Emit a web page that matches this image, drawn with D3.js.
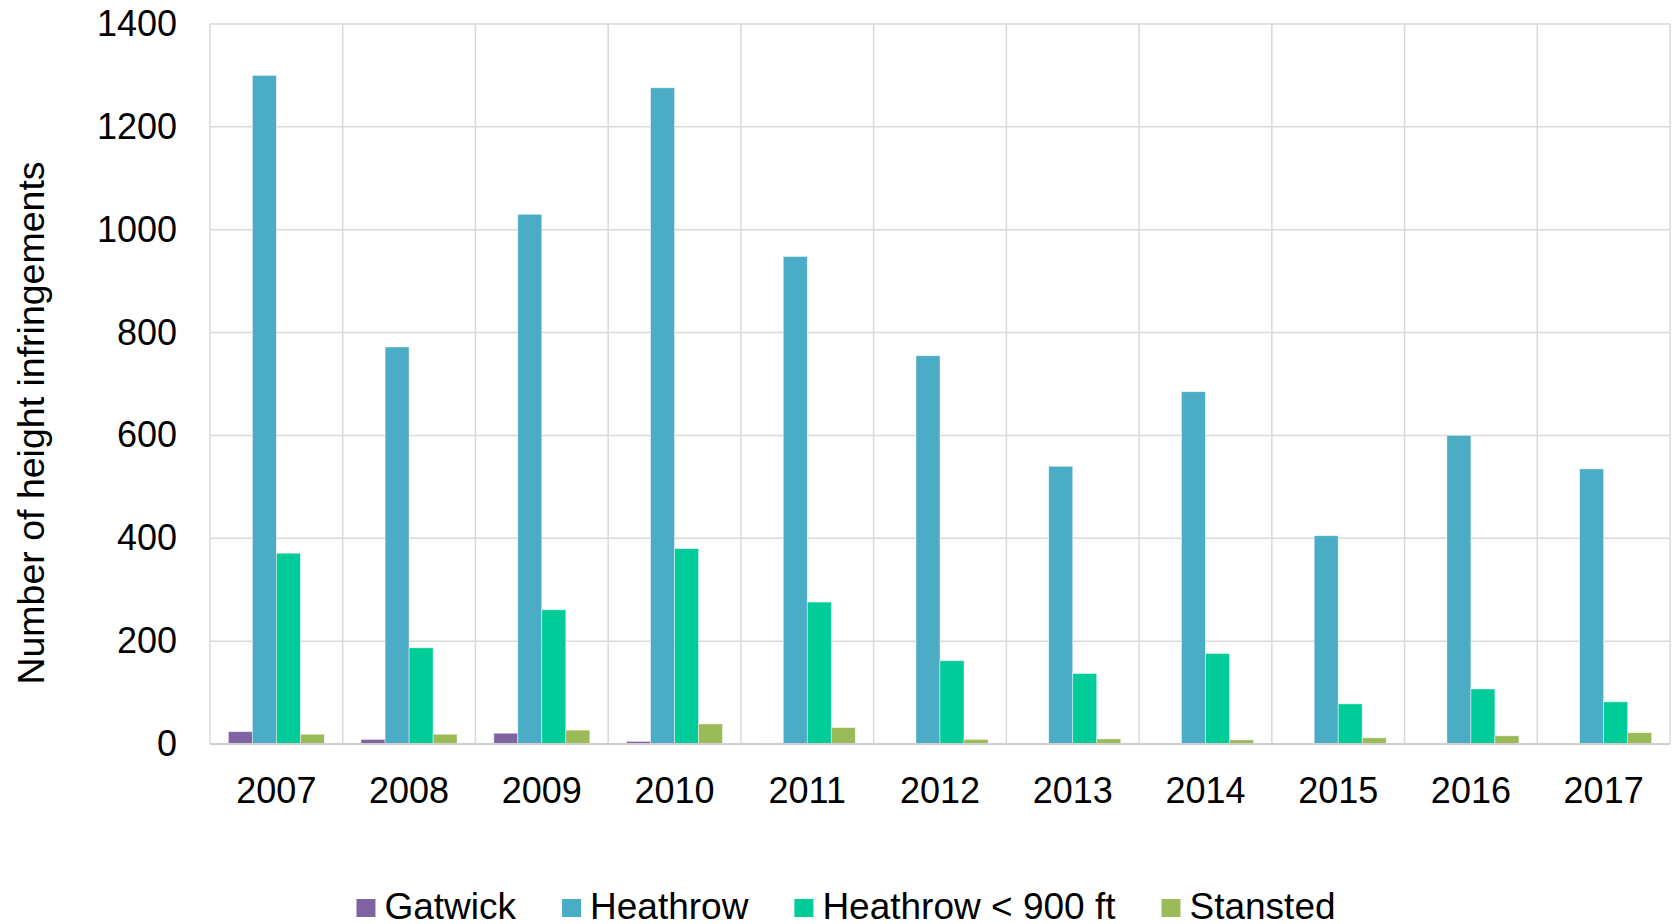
<!DOCTYPE html>
<html>
<head>
<meta charset="utf-8">
<script src="https://cdn.jsdelivr.net/npm/d3@7"></script>
<style>
  body { margin: 0; background: #fff; }
  text { font-family: "Liberation Sans", Arial, sans-serif; fill: #000; }
</style>
</head>
<body>
<div id="chart"></div>
<script>
// chart data
const years = ["2007", "2008", "2009", "2010", "2011", "2012", "2013", "2014", "2015", "2016", "2017"];
const seriesNames = ["Gatwick", "Heathrow", "Heathrow < 900 ft", "Stansted"];
const gatwick = [24, 9, 21, 5, 2, 1.5, 0, 0, 0, 0, 0];
const heathrow = [1300, 772, 1030, 1276, 948, 755, 540, 685, 405, 600, 535];
const heathrowLow = [371, 187, 261, 380, 276, 162, 137, 176, 78, 107, 82];
const stansted = [19, 19, 27, 39, 32, 9, 10, 8, 12, 16, 22];
const yTicks = [0, 200, 400, 600, 800, 1000, 1200, 1400];
const colors = ["#8064A2", "#4BACC6", "#00CC99", "#9BBB59"];

const values = [gatwick, heathrow, heathrowLow, stansted];

const width = 1675, height = 924;
const margin = {top: 24, right: 5, bottom: 180, left: 210};
const innerW = width - margin.left - margin.right;
const innerH = height - margin.top - margin.bottom;

let svg = d3.select("#chart")
	.append("svg")
	.attr("width", width)
	.attr("height", height);

let g = svg.append("g")
	.attr("transform", "translate(" + margin.left + "," + margin.top + ")");

let x0 = d3.scaleBand().domain(years).range([0, innerW]).paddingInner(0).paddingOuter(0);
let x1 = d3.scaleBand().domain(seriesNames).range([0, x0.bandwidth()]).paddingInner(0).paddingOuter(0.764);
let y = d3.scaleLinear().domain([0, 1400]).range([innerH, 0]);

// horizontal gridlines
g.append("g")
	.selectAll("line")
	.data(yTicks)
	.enter()
	.append("line")
	.attr("x1", 0)
	.attr("x2", innerW)
	.attr("y1", function(d) {return y(d)})
	.attr("y2", function(d) {return y(d)})
	.attr("stroke", "#d9d9d9")
	.attr("stroke-width", 1.5);

// vertical gridlines between the years
let bounds = years.map(function(d) {return x0(d)}).concat([innerW]);
g.append("g")
	.selectAll("line")
	.data(bounds)
	.enter()
	.append("line")
	.attr("x1", function(d) {return d})
	.attr("x2", function(d) {return d})
	.attr("y1", 0)
	.attr("y2", innerH)
	.attr("stroke", "#d9d9d9")
	.attr("stroke-width", 1.5);

// bars
let groups = g.append("g")
	.selectAll("g")
	.data(years)
	.enter()
	.append("g")
	.attr("transform", function(d) {return "translate(" + x0(d) + ",0)"});

groups.selectAll("rect")
	.data(function(d, i) {
		return seriesNames.map(function(s, k) {return {name: s, k: k, value: values[k][i]}});
	})
	.enter()
	.append("rect")
	.attr("x", function(d) {return x1(d.name)})
	.attr("y", function(d) {return y(d.value)})
	.attr("width", x1.bandwidth())
	.attr("height", function(d) {return innerH - y(d.value)})
	.attr("fill", function(d) {return colors[d.k]})
	.attr("stroke", function(d) {return d.value > 0 ? "rgba(255,255,255,0.6)" : "none"})
	.attr("stroke-width", 0.75);

// bottom axis line
g.append("line")
	.attr("x1", 0)
	.attr("x2", innerW)
	.attr("y1", innerH)
	.attr("y2", innerH)
	.attr("stroke", "#cfcfcf")
	.attr("stroke-width", 2);

// y axis
let yAxis = g.append("g")
	.call(d3.axisLeft(y).tickValues(yTicks).tickSize(0).tickPadding(33).tickFormat(d3.format("d")));
yAxis.select(".domain").remove();
yAxis.selectAll("text")
	.style("font-family", "'Liberation Sans', Arial, sans-serif")
	.style("font-size", "36px")
	.attr("fill", "#000");

// x axis labels
let xAxis = g.append("g")
	.attr("transform", "translate(0," + innerH + ")")
	.call(d3.axisBottom(x0).tickSize(0).tickPadding(33));
xAxis.select(".domain").remove();
xAxis.selectAll("text")
	.style("font-family", "'Liberation Sans', Arial, sans-serif")
	.style("font-size", "36px")
	.attr("fill", "#000");

// Y axis label
svg.append("text")
	.attr("transform", "translate(44,423)rotate(-90)")
	.style("text-anchor", "middle")
	.style("font-size", "37.5px")
	.text("Number of height infringements");

// legend (the reference clips it at the bottom edge)
let legend = svg.append("g");
let items = legend.selectAll("g")
	.data(seriesNames)
	.enter()
	.append("g");

items.append("rect")
	.attr("width", 19)
	.attr("height", 18)
	.attr("y", 899)
	.attr("fill", function(d, i) {return colors[i]});

items.append("text")
	.attr("x", 28)
	.attr("y", 919)
	.style("font-size", "37px")
	.text(function(d) {return d});

let pos = 0;
let offsets = [];
items.each(function() {
	offsets.push(pos);
	let w = d3.select(this).select("text").node().getComputedTextLength();
	pos += 28 + w + 46;
});
let total = pos - 46;
let start = 846 - total / 2;
items.attr("transform", function(d, i) {return "translate(" + (start + offsets[i]) + ",0)"});
</script>
</body>
</html>
